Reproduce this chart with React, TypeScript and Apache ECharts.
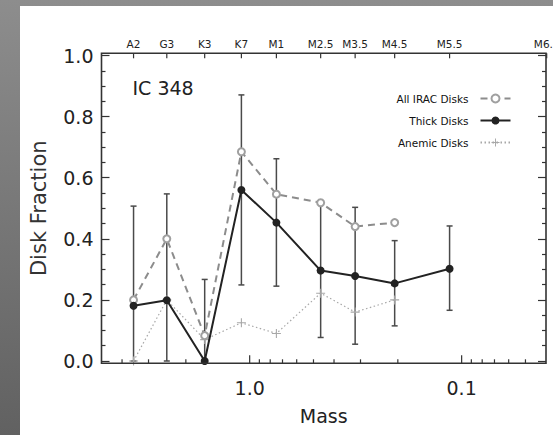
import React, { useEffect, useRef } from "react";
import * as echarts from "echarts";

// ---------- data ----------
const spectralTypes = ["A2", "G3", "K3", "K7", "M1", "M2.5", "M3.5", "M4.5", "M5.5", "M6.5"];
const spectralMasses = [3.53, 2.46, 1.63, 1.094, 0.748, 0.4625, 0.318, 0.207, 0.114, 0.0397];

const thickMasses = [3.53, 2.46, 1.63, 1.094, 0.748, 0.4625, 0.318, 0.207, 0.114];
const thickDisks = [0.181, 0.199, 0.0, 0.56, 0.453, 0.296, 0.278, 0.254, 0.302];
const thickLow = [0.0, 0.0, 0.0, 0.249, 0.245, 0.077, 0.055, 0.115, 0.166];
const thickHigh = [0.507, 0.547, 0.267, 0.871, 0.662, 0.514, 0.503, 0.394, 0.442];

const iracMasses = [3.53, 2.46, 1.63, 1.094, 0.748, 0.4625, 0.318, 0.207];
const allIracDisks = [0.2, 0.4, 0.083, 0.685, 0.546, 0.518, 0.44, 0.453];
const anemicDisks = [0.0, 0.2, 0.07, 0.125, 0.09, 0.222, 0.16, 0.2];

const majorMassTicks = [1, 0.1];
const minorMassTicks = [4, 3, 2, 0.9, 0.8, 0.7, 0.6, 0.5, 0.4, 0.3, 0.2, 0.09, 0.08, 0.07, 0.06, 0.05];
const massTickLabels: Record<string, string> = { "1": "1.0", "0.1": "0.1" };

const seriesNames = ["All IRAC Disks", "Thick Disks", "Anemic Disks"];

// ---------- layout / style ----------
const FONT = "DejaVu Sans";
const GRID_LEFT = 101.5;
const GRID_RIGHT_X = 546;
const GRID_TOP = 55.5;
const GRID_BOTTOM_Y = 361;
const FRAME_TOP = 53.3;
const FRAME_BOTTOM = 363.3;
const AXIS_COLOR = "#333";
const PLUS = "path://M4.4,0H5.6V10H4.4ZM0,4.4H10V5.6H0Z";

export default function App() {
  const ref = useRef<HTMLDivElement>(null);

  useEffect(() => {
    if (!ref.current) return;
    const chart = echarts.init(ref.current, null, { renderer: "svg" });

    const errData = thickMasses.map((m, i) => [m, thickLow[i], thickHigh[i]]);
    const tickData = [
      ...majorMassTicks.map((m) => [m, 1]),
      ...minorMassTicks.map((m) => [m, 0]),
    ];
    const topData = spectralMasses.map((m, i) => [m, 1, spectralTypes[i]]);

    const option: any = {
      animation: false,
      backgroundColor: {
        type: "linear",
        x: 0, y: 0, x2: 0, y2: 1,
        colorStops: [
          { offset: 0, color: "#8d8d8d" },
          { offset: 1, color: "#616161" },
        ],
      },
      graphic: {
        elements: [
          {
            type: "rect",
            z: -10,
            silent: true,
            shape: { x: 20, y: 6, width: 533, height: 429 },
            style: { fill: "#ffffff" },
          },
          {
            type: "rect",
            z: 100,
            silent: true,
            shape: {
              x: GRID_LEFT,
              y: FRAME_TOP,
              width: GRID_RIGHT_X - GRID_LEFT,
              height: FRAME_BOTTOM - FRAME_TOP,
            },
            style: { fill: "none", stroke: AXIS_COLOR, lineWidth: 1.6 },
          },
          {
            type: "text",
            x: 132.5,
            y: 88,
            style: {
              text: "IC 348",
              font: `19px "${FONT}"`,
              fill: "#222",
              verticalAlign: "middle",
              textAlign: "left",
            },
          },
        ],
      },
      grid: {
        left: GRID_LEFT,
        top: GRID_TOP,
        width: GRID_RIGHT_X - GRID_LEFT,
        height: GRID_BOTTOM_Y - GRID_TOP,
        containLabel: false,
      },
      legend: {
        data: seriesNames,
        orient: "vertical",
        right: 36.5,
        top: 88,
        align: "right",
        itemWidth: 30,
        itemHeight: 10,
        itemGap: 11,
        textStyle: {
          fontFamily: FONT,
          fontSize: 10.5,
          color: "#111",
          padding: [0, 7, 0, 0],
        },
      },
      xAxis: {
        type: "log",
        logBase: 10,
        min: 0.04,
        max: 5,
        inverse: true,
        axisLine: { show: false },
        axisTick: { show: false },
        splitLine: { show: false },
        axisLabel: {
          fontFamily: FONT,
          fontSize: 19,
          color: "#222",
          margin: 17,
          formatter: (v: number) => {
            for (const k of Object.keys(massTickLabels)) {
              if (Math.abs(v - Number(k)) < 1e-6 * Number(k)) return massTickLabels[k];
            }
            return "";
          },
        },
        name: "Mass",
        nameLocation: "middle",
        nameGap: 45,
        nameTextStyle: { fontFamily: FONT, fontSize: 19, color: "#222" },
      },
      yAxis: [
        {
          type: "value",
          min: 0,
          max: 1,
          interval: 0.2,
          position: "left",
          axisLine: { show: false },
          splitLine: { show: false },
          axisTick: { show: true, inside: true, length: 8, lineStyle: { color: AXIS_COLOR, width: 1.2 } },
          minorTick: { show: true, splitNumber: 4, length: 4, lineStyle: { color: AXIS_COLOR, width: 1.2 } },
          axisLabel: {
            fontFamily: FONT,
            fontSize: 19,
            color: "#222",
            margin: 8,
            padding: [5, 0, 0, 0],
            formatter: (v: number) => v.toFixed(1),
          },
          name: "Disk Fraction",
          nameLocation: "middle",
          nameGap: 52,
          nameRotate: 90,
          nameTextStyle: { fontFamily: FONT, fontSize: 21, color: "#333" },
        },
        {
          type: "value",
          min: 0,
          max: 1,
          interval: 0.2,
          position: "right",
          axisLine: { show: false },
          splitLine: { show: false },
          axisLabel: { show: false },
          axisTick: { show: true, inside: true, length: 8, lineStyle: { color: AXIS_COLOR, width: 1.2 } },
          minorTick: { show: true, splitNumber: 4, length: 4, lineStyle: { color: AXIS_COLOR, width: 1.2 } },
        },
      ],
      series: [
        {
          type: "custom",
          name: "errors",
          z: 1,
          clip: false,
          silent: true,
          data: errData,
          encode: { x: 0, y: [1, 2] },
          renderItem: (params: any, api: any) => {
            const m = api.value(0);
            const lo = api.coord([m, api.value(1)]);
            const hi = api.coord([m, api.value(2)]);
            const st = { stroke: "#4a4a4a", lineWidth: 1.5 };
            return {
              type: "group",
              children: [
                { type: "line", shape: { x1: lo[0], y1: lo[1], x2: hi[0], y2: hi[1] }, style: st },
                { type: "line", shape: { x1: hi[0] - 3, y1: hi[1], x2: hi[0] + 3, y2: hi[1] }, style: st },
                { type: "line", shape: { x1: lo[0] - 3, y1: lo[1], x2: lo[0] + 3, y2: lo[1] }, style: st },
              ],
            };
          },
        },
        {
          type: "custom",
          name: "massTicks",
          z: 5,
          clip: false,
          silent: true,
          data: tickData,
          encode: { x: 0 },
          renderItem: (params: any, api: any) => {
            const p = api.coord([api.value(0), 0]);
            const len = api.value(1) ? 8 : 4;
            return {
              type: "line",
              shape: { x1: p[0], y1: FRAME_BOTTOM, x2: p[0], y2: FRAME_BOTTOM - len },
              style: { stroke: AXIS_COLOR, lineWidth: 1.2 },
            };
          },
        },
        {
          type: "custom",
          name: "spectralTypes",
          z: 5,
          clip: false,
          silent: true,
          data: topData,
          encode: { x: 0, y: 1 },
          renderItem: (params: any, api: any) => {
            const p = api.coord([api.value(0), 1]);
            const label = spectralTypes[params.dataIndex];
            return {
              type: "group",
              children: [
                {
                  type: "line",
                  shape: { x1: p[0], y1: FRAME_TOP, x2: p[0], y2: FRAME_TOP + 5 },
                  style: { stroke: AXIS_COLOR, lineWidth: 1.2 },
                },
                {
                  type: "text",
                  x: p[0],
                  y: FRAME_TOP - 9.5,
                  style: {
                    text: label,
                    font: `10.5px "${FONT}"`,
                    fill: "#222",
                    textAlign: "center",
                    verticalAlign: "middle",
                  },
                },
              ],
            };
          },
        },
        {
          type: "line",
          name: "Anemic Disks",
          z: 2,
          data: iracMasses.map((m, i) => [m, anemicDisks[i]]),
          symbol: PLUS,
          symbolSize: 9,
          color: "#a8a8a8",
          itemStyle: { color: "#a8a8a8" },
          lineStyle: { color: "#a8a8a8", width: 1.2, type: [1.5, 2.5] },
        },
        {
          type: "line",
          name: "All IRAC Disks",
          z: 3,
          data: iracMasses.map((m, i) => [m, allIracDisks[i]]),
          symbol: "emptyCircle",
          symbolSize: 7,
          color: "#8c8c8c",
          itemStyle: { color: "#a0a0a0", borderWidth: 1 },
          lineStyle: { color: "#8c8c8c", width: 2, type: [7, 5] },
        },
        {
          type: "line",
          name: "Thick Disks",
          z: 4,
          data: thickMasses.map((m, i) => [m, thickDisks[i]]),
          symbol: "circle",
          symbolSize: 8,
          color: "#222",
          itemStyle: { color: "#222" },
          lineStyle: { color: "#222", width: 2 },
        },
      ],
    };

    chart.setOption(option);
    return () => chart.dispose();
  }, []);

  return (
    <div
      ref={ref}
      style={{ position: "fixed", left: 0, top: 0, width: 553, height: 435 }}
    />
  );
}
